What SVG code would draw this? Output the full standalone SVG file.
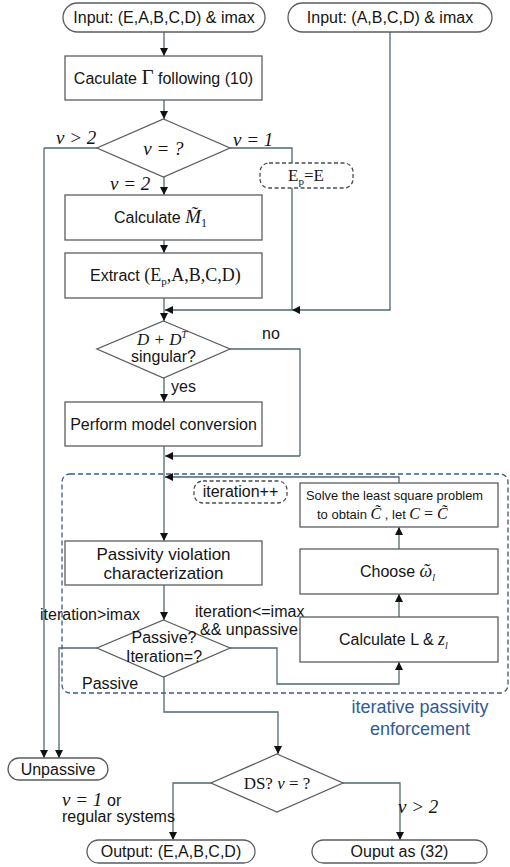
<svg xmlns="http://www.w3.org/2000/svg" width="510" height="867" viewBox="0 0 510 867">
  <defs>
    <marker id="arrow" viewBox="0 0 10 10" refX="10" refY="5" markerWidth="8" markerHeight="8" markerUnits="userSpaceOnUse" orient="auto">
      <path d="M0,0 L10,5 L0,10 z" fill="#111"/>
    </marker>
    <style>
      .box { fill: #fff; stroke: #5a5e60; stroke-width: 1.3; }
      .dash { fill: #fff; stroke: #4a4e50; stroke-width: 1.3; stroke-dasharray: 4 2.5; }
      .region { fill: none; stroke: #3a5a8c; stroke-width: 1.3; stroke-dasharray: 5 3; }
      .wire { fill: none; stroke: #4e6a70; stroke-width: 1.3; }
      .arr { marker-end: url(#arrow); }
      text { font-family: "Liberation Sans", Arial, sans-serif; fill: #151515; }
      .t16 { font-size: 16px; }
      .t17 { font-size: 17px; }
      .mid { text-anchor: middle; }
      .math { font-family: "Liberation Serif", "Times New Roman", serif; font-style: italic; }
      .rm { font-family: "Liberation Serif", "Times New Roman", serif; }
      .omega { font-family: "Liberation Serif", "DejaVu Serif", serif; font-style: italic; }
      .blue { fill: #2e5a9c; font-size: 18px; }
    </style>
  </defs>

  <!-- dashed region of the iterative loop -->
  <rect class="region" x="62" y="474" width="446" height="219" rx="8"/>

  <!-- connectors -->
  <g id="connectors">
    <path class="wire arr" d="M164,32 V56"/>
    <path class="wire arr" d="M164,100 V119"/>
    <path class="wire" d="M97,148 H44"/>
    <path class="wire arr" d="M44,148 V758"/>
    <path class="wire" d="M230,148 H292 V163"/>
    <path class="wire arr" d="M164,177 V195"/>
    <path class="wire arr" d="M164,240 V253"/>
    <path class="wire arr" d="M164,298 V321"/>
    <path class="wire arr" d="M390,32 V310 H292"/>
    <path class="wire arr" d="M292,188 V310 H165"/>
    <path class="wire" d="M230,349 H300 V456"/>
    <path class="wire arr" d="M300,456 H165"/>
    <path class="wire arr" d="M164,378 V402"/>
    <path class="wire arr" d="M164,446 V541"/>
    <path class="wire arr" d="M399,483 V477 H165"/>
    <path class="wire arr" d="M164,585 V620"/>
    <path class="wire arr" d="M97,648 H59 V758"/>
    <path class="wire arr" d="M230,648 H277 V684 H399 V662"/>
    <path class="wire arr" d="M399,617 V594"/>
    <path class="wire arr" d="M399,549 V527"/>
    <path class="wire arr" d="M164,677 V712 H278 V754"/>
    <path class="wire arr" d="M211,783 H173 V840"/>
    <path class="wire arr" d="M343,783 H400 V840"/>
  </g>

  <!-- connector labels -->
  <g id="labels">
    <text class="math" x="56" y="144" font-size="19">ν &gt; 2</text>
    <text class="math" x="233" y="146" font-size="19">ν = 1</text>
    <text class="math" x="110" y="190" font-size="19">ν = 2</text>
    <text class="t16" x="262" y="339">no</text>
    <text class="t16" x="171" y="392">yes</text>
    <text class="t16" x="40" y="620">iteration&gt;imax</text>
    <text class="t16" x="195" y="617">iteration&lt;=imax</text>
    <text class="t16" x="200" y="635">&amp;&amp; unpassive</text>
    <text class="t16" x="82" y="689">Passive</text>
    <text class="math" x="62" y="806" font-size="19">ν = 1 <tspan font-family="Liberation Sans, Arial, sans-serif" font-style="normal" font-size="16">or</tspan></text>
    <text class="t16" x="62" y="822">regular systems</text>
    <text class="math" x="398" y="813" font-size="19">ν &gt; 2</text>
    <text class="blue mid" x="420" y="713">iterative passivity</text>
    <text class="blue mid" x="420" y="735">enforcement</text>
  </g>

  <g id="input1">
    <rect class="box" x="63" y="3" width="202" height="29" rx="14.5"/>
    <text class="t16 mid" x="164" y="23">Input: (E,A,B,C,D) &amp; imax</text>
  </g>
  <g id="input2">
    <rect class="box" x="288" y="3" width="204" height="29" rx="14.5"/>
    <text class="t16 mid" x="390" y="23">Input: (A,B,C,D) &amp; imax</text>
  </g>

  <g id="calcGamma">
    <rect class="box" x="65" y="56" width="197" height="44"/>
    <text class="t16 mid" x="163.5" y="84">Caculate <tspan class="rm" font-size="21">Γ</tspan> following (10)</text>
  </g>

  <g id="nuDecision">
    <polygon class="box" points="163.5,119 230,148 163.5,177 97,148"/>
    <text class="math mid" x="163.5" y="155" font-size="19">ν = ?</text>
  </g>

  <g id="epE">
    <rect class="dash" x="260" y="163" width="93" height="25" rx="9"/>
    <text class="rm mid" x="306" y="181" font-size="17">E<tspan font-size="11" dy="4">p</tspan><tspan dy="-4">=E</tspan></text>
  </g>

  <g id="calcM1">
    <rect class="box" x="65" y="195" width="197" height="45"/>
    <text class="t16" x="114" y="223">Calculate <tspan class="math" font-size="19">M̃</tspan><tspan class="rm" font-size="12" dy="4">1</tspan></text>
  </g>

  <g id="extract">
    <rect class="box" x="65" y="253" width="197" height="45"/>
    <text class="t16" x="90" y="281">Extract <tspan class="rm" font-size="18">(E<tspan font-size="11" dy="4">p</tspan><tspan dy="-4">,A,B,C,D)</tspan></tspan></text>
  </g>

  <g id="singular">
    <polygon class="box" points="163.5,321 230,349 163.5,378 97,349"/>
    <text class="math mid" x="162" y="345" font-size="17">D + D<tspan font-size="10" dy="-7">T</tspan></text>
    <text class="t16 mid" x="163.5" y="362">singular?</text>
  </g>

  <g id="convert">
    <rect class="box" x="65" y="402" width="197" height="44"/>
    <text class="t16 mid" x="163.5" y="430">Perform model conversion</text>
  </g>

  <g id="iterInc">
    <rect class="dash" x="194" y="481" width="93" height="22" rx="9"/>
    <text class="t16 mid" x="240.5" y="497">iteration++</text>
  </g>

  <g id="solveLS">
    <rect class="box" x="300" y="483" width="198" height="44"/>
    <text x="306" y="500" font-size="13" textLength="177" lengthAdjust="spacingAndGlyphs">Solve the least square problem</text>
    <text x="317" y="519" font-size="13">to obtain <tspan class="math" font-size="16">C̃</tspan> , let <tspan class="math" font-size="16">C</tspan><tspan class="rm" font-size="16"> = </tspan><tspan class="math" font-size="16">C̃</tspan></text>
  </g>

  <g id="passivityChar">
    <rect class="box" x="65" y="541" width="197" height="44"/>
    <text class="t17 mid" x="163.5" y="560">Passivity violation</text>
    <text class="t17 mid" x="163.5" y="579">characterization</text>
  </g>

  <g id="chooseOmega">
    <rect class="box" x="300" y="549" width="198" height="45"/>
    <text class="t16" x="360" y="577">Choose <tspan class="omega" font-size="18">ῶ</tspan><tspan class="math" font-size="10" dy="4">l</tspan></text>
  </g>

  <g id="passiveDecision">
    <polygon class="box" points="163.5,620 230,648 163.5,677 97,648"/>
    <text class="t16 mid" x="164" y="643">Passive?</text>
    <text class="t16 mid" x="164" y="662">Iteration=?</text>
  </g>

  <g id="calcLz">
    <rect class="box" x="300" y="617" width="198" height="45"/>
    <text class="t16" x="339" y="645">Calculate L &amp; <tspan class="math" font-size="18">z</tspan><tspan class="math" font-size="10" dy="4">l</tspan></text>
  </g>

  <g id="unpassive">
    <rect class="box" x="8" y="758" width="100" height="22" rx="11"/>
    <text class="t16 mid" x="58" y="775">Unpassive</text>
  </g>

  <g id="dsDecision">
    <polygon class="box" points="277,754 343,783 277,812 211,783"/>
    <text class="rm mid" x="277" y="789" font-size="17">DS? <tspan class="math">ν</tspan> = ?</text>
  </g>

  <g id="outputEABCD">
    <rect class="box" x="87" y="840" width="168" height="23" rx="11.5"/>
    <text class="t16 mid" x="171" y="857">Output: (E,A,B,C,D)</text>
  </g>

  <g id="output32">
    <rect class="box" x="312" y="840" width="175" height="23" rx="11.5"/>
    <text class="t16 mid" x="399.5" y="857">Ouput as (32)</text>
  </g>
</svg>
